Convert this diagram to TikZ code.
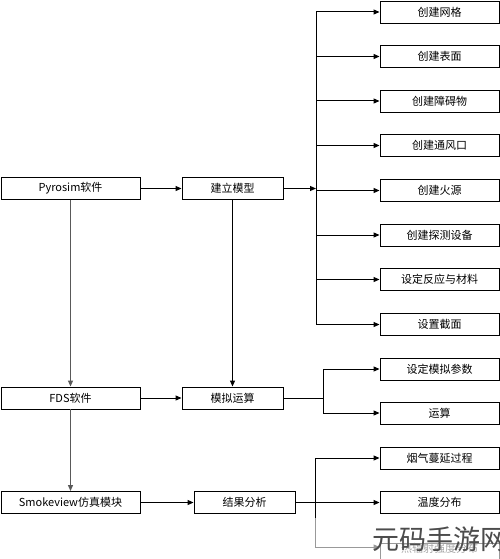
\documentclass[tikz,border=0pt]{standalone}
\usepackage{fontspec}
\setmainfont{Noto Sans CJK SC}
\usetikzlibrary{arrows.meta,calc}
\begin{document}
\begin{tikzpicture}[x=1pt,y=-1pt,
 box/.style={draw=black, line width=0.9pt, minimum height=22pt, inner sep=0pt, fill=white, font=\fontsize{11}{12}\selectfont},
 lbox/.style={box, minimum width=139pt},
 mbox/.style={box, minimum width=101pt},
 rbox/.style={box, minimum width=119pt},
 ln/.style={line width=1pt, draw=black},
 arr/.style={ln, -{Triangle[length=6pt,width=5pt]}},
 varr/.style={arr, draw=black!65, fill=black!65},
 faint/.style={line width=1pt, draw=black!40, -{Triangle[length=6pt,width=5pt]}},
]
\useasboundingbox (0,0) rectangle (500,559);
\fill[white] (0,0) rectangle (500,559);
\clip (0,0) rectangle (500,559);

% left column
\node[lbox] (py) at (70.5,188.5) {Pyrosim软件};
\node[lbox] (fds) at (70.5,398) {FDS软件};
\node[lbox] (sv) at (70.5,502.5) {Smokeview仿真模块};

% middle column
\node[mbox] (jl) at (232.5,188.5) {建立模型};
\node[mbox] (mn) at (232.5,398) {模拟运算};
\node[mbox] (jg) at (244.5,502.5) {结果分析};

% right column, top group
\node[rbox] (r1) at (439.5,12) {创建网格};
\node[rbox] (r2) at (439.5,56.5) {创建表面};
\node[rbox] (r3) at (439.5,101) {创建障碍物};
\node[rbox] (r4) at (439.5,145.5) {创建通风口};
\node[rbox] (r5) at (439.5,190.5) {创建火源};
\node[rbox] (r6) at (439.5,235) {创建探测设备};
\node[rbox] (r7) at (439.5,279.5) {设定反应与材料};
\node[rbox] (r8) at (439.5,324.5) {设置截面};

% right column, middle group
\node[rbox] (c1) at (439.5,369) {设定模拟参数};
\node[rbox] (c2) at (439.5,413) {运算};

% right column, bottom group
\node[rbox] (b1) at (439.5,458) {烟气蔓延过程};
\node[rbox] (b2) at (439.5,502.5) {温度分布};
\node[rbox, draw=black!40] (b3) at (439.5,554) {};
\node[text=black!35, font=\fontsize{11}{12}\selectfont, inner sep=0pt] (b3t) at (439.5,548) {热辐射强度分布};

\coordinate (tx) at (316,0);
\coordinate (mx) at (323,398);
\coordinate (bx) at (315,0);
\coordinate (bmid) at (315,518);
\coordinate (bend) at (315,547);

% horizontal flow
\draw[arr] (py.east) -- (jl.west);
\draw[arr] (fds.east) -- (mn.west);
\draw[arr] (sv.east) -- (jg.west);

% vertical flow
\draw[varr] (py.south) -- (fds.north);
\draw[varr] (fds.south) -- (sv.north);
\draw[arr] (jl.south) -- (mn.north);

% top trunk
\draw[ln] (r1.west -| tx) -- (r8.west -| tx);
\draw[arr] (jl.east) -- (jl.east -| tx);
\foreach \n in {r1,r2,r3,r4,r5,r6,r7,r8}
  \draw[arr] (\n.west -| tx) -- (\n.west);

% middle branch
\draw[ln] (mn.east) -- (mx);
\draw[arr] (mx) |- (c1.west);
\draw[arr] (mx) |- (c2.west);

% bottom trunk
\draw[ln] (b1.west -| bx) -- (bmid);
\draw[arr] (jg.east) -- (b2.west);
\draw[arr] (b1.west -| bx) -- (b1.west);
\draw[line width=1pt, draw=black!40] (bmid) -- (bend);
\draw[faint] (bend) -- (bend -| b3.west);

% watermark
\node[text=black!70, font=\fontsize{27}{30}\selectfont, inner sep=0pt] (wm) at (440,539) {元码手游网};
\end{tikzpicture}
\end{document}
